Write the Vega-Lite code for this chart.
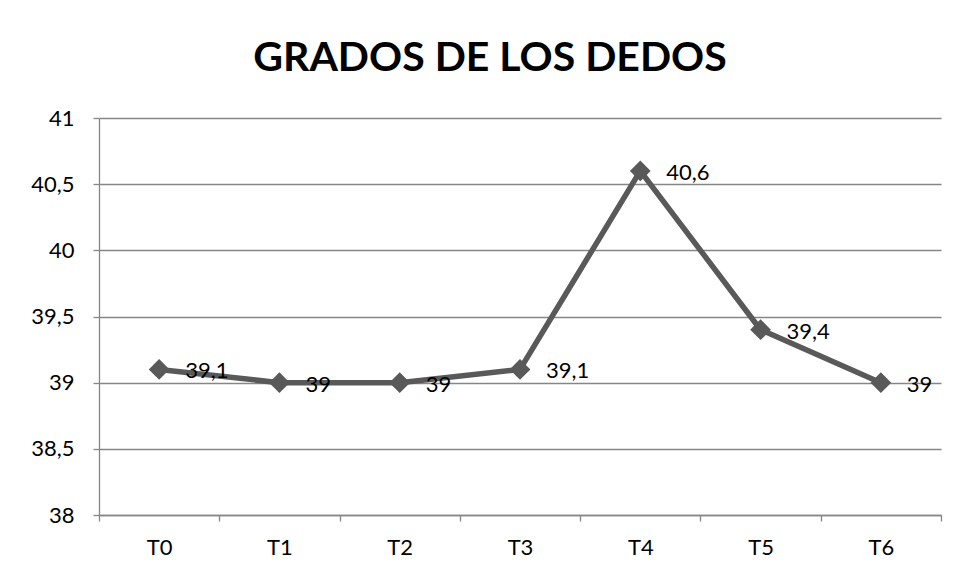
{
  "$schema": "https://vega.github.io/schema/vega-lite/v6.json",
  "width": 842,
  "height": 397,
  "autosize": {"type": "none"},
  "padding": {"left": 99, "top": 118, "right": 17, "bottom": 62},
  "background": "white",
  "title": {
    "text": "GRADOS DE LOS DEDOS",
    "font": "Lato",
    "fontSize": 41,
    "fontWeight": "bold",
    "color": "#000000",
    "anchor": "middle",
    "frame": "group",
    "dx": -30,
    "offset": 27
  },
  "data": {
    "values": [
      {"t": "T0", "v": 39.1, "label": "39,1"},
      {"t": "T1", "v": 39.0, "label": "39"},
      {"t": "T2", "v": 39.0, "label": "39"},
      {"t": "T3", "v": 39.1, "label": "39,1"},
      {"t": "T4", "v": 40.6, "label": "40,6"},
      {"t": "T5", "v": 39.4, "label": "39,4"},
      {"t": "T6", "v": 39.0, "label": "39"}
    ]
  },
  "encoding": {
    "x": {
      "field": "t",
      "type": "nominal",
      "sort": null,
      "scale": {"paddingInner": 0, "paddingOuter": 0},
      "axis": {
        "title": null,
        "labelAngle": 0,
        "labelFont": "Lato",
        "labelFontSize": 22,
        "labelColor": "#000000",
        "labelPadding": 16,
        "domainColor": "#868686",
        "domainWidth": 1.3,
        "tickColor": "#868686",
        "tickWidth": 1.3,
        "tickSize": 6,
        "tickBand": "extent",
        "grid": false
      }
    },
    "y": {
      "field": "v",
      "type": "quantitative",
      "scale": {"domain": [38, 41], "nice": false, "zero": false},
      "axis": {
        "title": null,
        "values": [38, 38.5, 39, 39.5, 40, 40.5, 41],
        "labelExpr": "replace(format(datum.value, '.2~f'), '.', ',')",
        "labelFont": "Lato",
        "labelFontSize": 22,
        "labelColor": "#000000",
        "labelPadding": 19,
        "domainColor": "#868686",
        "domainWidth": 1.3,
        "tickColor": "#868686",
        "tickWidth": 1.3,
        "tickSize": 6,
        "grid": true,
        "gridColor": "#868686",
        "gridWidth": 1.3
      }
    }
  },
  "layer": [
    {
      "mark": {"type": "line", "color": "#595959", "strokeWidth": 5.5, "strokeJoin": "round"}
    },
    {
      "mark": {"type": "point", "shape": "diamond", "filled": true, "color": "#595959", "opacity": 1, "size": 430}
    },
    {
      "mark": {"type": "text", "align": "left", "baseline": "middle", "dx": 26, "dy": 2, "font": "Lato", "fontSize": 22, "color": "#000000"},
      "encoding": {"text": {"field": "label"}}
    }
  ],
  "config": {"view": {"stroke": null}}
}
